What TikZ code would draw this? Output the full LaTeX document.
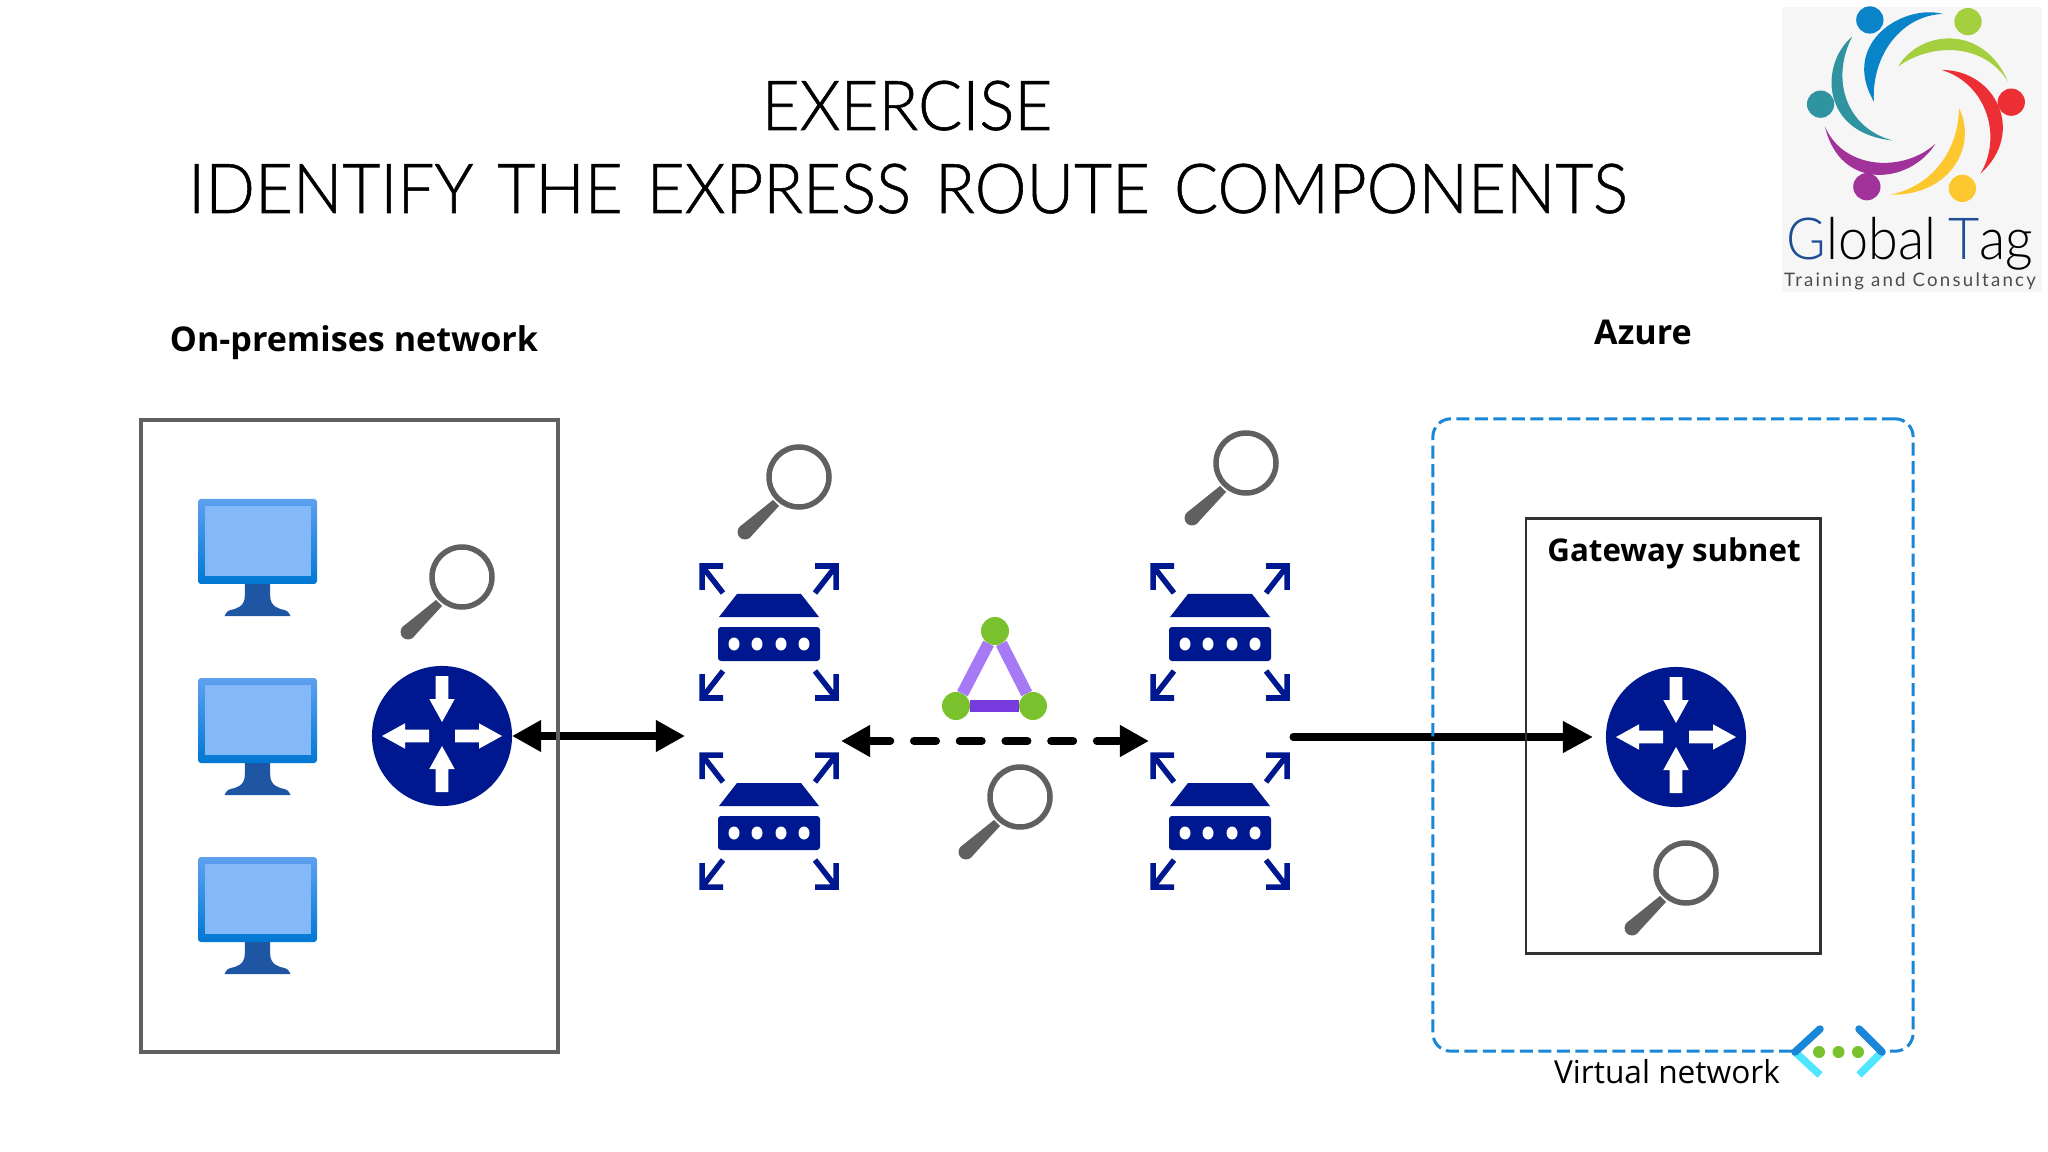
\documentclass[tikz,border=0pt]{standalone}
\usepackage{fontspec}
\setmainfont{Open Sans}
\newfontfamily\titlefont[UprightFont=* Light,WordSpace=1.35,FakeStretch=0.95,FakeBold=0.8]{Lato}
\newfontfamily\logofont[UprightFont=* Light,FakeStretch=0.93,WordSpace=0.8]{Lato}
\newfontfamily\logosubfont[LetterSpace=12]{Lato}
\usetikzlibrary{arrows.meta, positioning}
\definecolor{navy}{RGB}{0, 24, 143}
\definecolor{lens}{RGB}{96, 96, 96}
\definecolor{framegray}{RGB}{96, 96, 96}
\definecolor{subnetgray}{RGB}{50, 50, 50}
\definecolor{vnetblue}{RGB}{26, 134, 216}
\definecolor{vnetcyan}{RGB}{80, 230, 255}
\definecolor{leafgreen}{RGB}{122, 194, 45}
\definecolor{linklight}{RGB}{166, 122, 244}
\definecolor{linkdark}{RGB}{119, 58, 220}
\definecolor{screenedge}{RGB}{94, 160, 239}
\definecolor{screenbase}{RGB}{0, 120, 212}
\definecolor{screenglass}{RGB}{131, 185, 249}
\definecolor{standblue}{RGB}{31, 86, 163}
\definecolor{logobg}{RGB}{246, 246, 247}
\definecolor{logoblue}{RGB}{10, 132, 200}
\definecolor{logogreen}{RGB}{164, 207, 62}
\definecolor{logored}{RGB}{236, 47, 52}
\definecolor{logoyellow}{RGB}{253, 200, 47}
\definecolor{logopurple}{RGB}{160, 50, 154}
\definecolor{logoteal}{RGB}{47, 147, 160}
\definecolor{logoink}{RGB}{31, 78, 150}

\tikzset{
  magnifier/.pic={
    \draw [lens, line width=0.055cm] (0,0) circle [radius=30];
    \fill [lens] (-20,29) -- (-26,23) -- (-59,49.5) -- (-49,60.5) -- cycle;
    \fill [lens] (-54,55) circle [radius=7.5];
  },
  routerarrows/.pic={
    \foreach \a in {0,180}
      \fill [white, rotate=\a] (13,-6.3) -- (37,-6.3) -- (37,-12.7) -- (60,0) -- (37,12.7) -- (37,6.3) -- (13,6.3) -- cycle;
    \fill [white] (-6.3,-60) -- (6.3,-60) -- (6.3,-37) -- (12.7,-37) -- (0,-14) -- (-12.7,-37) -- (-6.3,-37) -- cycle;
    \fill [white] (-6.3,56) -- (6.3,56) -- (6.3,33) -- (12.7,33) -- (0,10) -- (-12.7,33) -- (-6.3,33) -- cycle;
  },
  switchicon/.pic={
    \fill [navy] (-50,-15) -- (-32,-38) -- (32,-38) -- (50,-15) -- cycle;
    \fill [navy, rounded corners=0.03cm] (-51,-5) rectangle (51,29);
    \foreach \x in {-35,-12,12,35}
      \fill [white] (\x,12) ellipse [x radius=5.5, y radius=6.5];
    \foreach \sx/\sy in {-1/-1, 1/-1, -1/1, 1/1}
      \draw [navy, line width=0.055cm] (\sx*46,\sy*66) -- (\sx*67,\sy*66) -- (\sx*67,\sy*42)
            (\sx*67,\sy*66) -- (\sx*46,\sy*39);
  },
  monitor/.pic={
    \fill [standblue] (-12.7,43) -- (-12.7,55) .. controls (-12.7,66) and (-22,68) .. (-27,69)
      .. controls (-31,70) and (-32,73) .. (-33,75) -- (33,75) .. controls (32,73) and (31,70) .. (27,69)
      .. controls (22,68) and (12.7,66) .. (12.7,55) -- (12.7,43) -- cycle;
    \shade [top color=screenedge, bottom color=screenbase, rounded corners=0.03cm] (-59.5,-42) rectangle (59.5,43);
    \fill [screenglass] (-53,-35) rectangle (53,35);
  }
}

\begin{document}
\begin{tikzpicture}[x=0.01cm, y=-0.01cm]

\tikzstyle{titletext} = [anchor=base, inner sep=0, font=\titlefont\fontsize{19.6}{24}\selectfont]
\tikzstyle{headtext} = [anchor=base, inner sep=0, font=\bfseries\fontsize{9.7}{12}\selectfont]
\tikzstyle{routerdisc} = [circle, fill=navy, minimum size=1.4cm, inner sep=0, outer sep=0]
\tikzstyle{switchbox} = [minimum width=1.44cm, minimum height=1.4cm, inner sep=0, outer sep=0]
\tikzstyle{peerdot} = [circle, fill=leafgreen, minimum size=0.28cm, inner sep=0, outer sep=0]
\tikzstyle{wire} = [line width=0.07cm, black, line cap=round]
\tikzstyle{bighead} = [{Triangle[length=0.29cm, width=0.3cm]}-{Triangle[length=0.29cm, width=0.3cm]}]

\useasboundingbox (0,0) rectangle (2048,1152);

\node[titletext] (titleA) at (907,130) {EXERCISE};
\node[titletext] (titleB) at (908,213) {IDENTIFY THE EXPRESS ROUTE COMPONENTS};
\node[headtext] (onpremLabel) at (354,352) {On-premises network};
\node[headtext] (azureLabel) at (1643,345) {Azure};

% endpoints of the links
\node[routerdisc] (routerL) at (442,736) {};
\node[routerdisc] (routerG) at (1676,737) {};
\node[switchbox] (swA) at (769,821) {};
\node[switchbox] (swB) at (1221,821) {};
\coordinate (peerLine) at (995,741);

\draw [wire, bighead, shorten >=0.12cm] (routerL.east) -- (routerL.east -| swA.west);
\draw [wire, line width=0.08cm, bighead, dash pattern=on 0.22cm off 0.237cm] (peerLine -| swA.east) -- (peerLine -| swB.west);
\draw [wire, -{Triangle[length=0.3cm, width=0.3cm]}, shorten >=0.13cm] (routerG.west -| swB.east) -- (routerG.west);

% frames
\node[draw=framegray, line width=0.04cm, minimum width=4.17cm, minimum height=6.32cm, outer sep=0] (onprem) at (349.5,736) {};
\node[draw=vnetblue, line width=0.03cm, rounded corners=0.18cm, dash pattern=on 0.13cm off 0.055cm, minimum width=4.8cm, minimum height=6.32cm, outer sep=0] (vnet) at (1673,735) {};
\node[draw=subnetgray, line width=0.028cm, minimum width=2.94cm, minimum height=4.35cm, outer sep=0] (subnet) at (1673,736) {};
\node[headtext, font=\bfseries\fontsize{8.9}{11}\selectfont] (subnetLabel) at (1674,561) {Gateway subnet};
\node[anchor=base, inner sep=0, font=\fontsize{9}{11}\selectfont] (vnetLabel) at (1667,1083) {Virtual network};

\foreach \y in {541,720,899}
  \pic at (257.5,\y) {monitor};

\pic at (routerL.center) {routerarrows};
\pic at (routerG.center) {routerarrows};

\foreach \x in {769,1220}
  \foreach \y in {632,821}
    \pic at (\x,\y) {switchicon};

\pic at (462,577) {magnifier};
\pic at (799,477) {magnifier};
\pic at (1020,797) {magnifier};
\pic at (1246,463) {magnifier};
\pic at (1686,873) {magnifier};

% triangle between the two pairs
\node[peerdot] (peerT) at (995,631) {};
\node[peerdot] (peerL) at (956,706) {};
\node[peerdot] (peerR) at (1033,706) {};
\draw [linklight, line width=0.12cm] (peerT) -- (peerL);
\draw [linklight, line width=0.12cm] (peerT) -- (peerR);
\draw [linkdark, line width=0.12cm] (peerL) -- (peerR);

% virtual network badge
\fill [white] (1795,1052) -- (1820,1029) -- (1859,1029) -- (1882,1052) -- (1859,1075) -- (1820,1075) -- cycle;
\draw [vnetcyan, line width=0.075cm] (1795,1052) -- (1820,1075);
\draw [vnetcyan, line width=0.075cm] (1882,1052) -- (1859,1075);
\draw [vnetblue, line width=0.075cm, line cap=round] (1820,1029) -- (1795,1052);
\draw [vnetblue, line width=0.075cm, line cap=round] (1859,1029) -- (1882,1052);
\foreach \x in {1819,1838.5,1858}
  \fill [leafgreen] (\x,1052) circle [radius=6];

% logo
\fill [logobg] (1782,7) rectangle (2042,292);
\begin{scope}[shift={(1770,0)}, x=0.00333cm, y=-0.00333cm]
  \fill [logoblue] (520,42) .. controls (400,10) and (210,130) .. (312,305) .. controls (305,160) and (400,45) .. (520,42);
  \fill [logoblue] (300,60) circle [radius=41];
  \fill [logogreen] (385,200) .. controls (450,90) and (640,70) .. (715,245) .. controls (640,125) and (480,130) .. (385,200);
  \fill [logogreen] (595,65) circle [radius=41];
  \fill [logored] (515,210) .. controls (680,210) and (770,400) .. (632,522) .. controls (700,410) and (650,250) .. (515,210);
  \fill [logored] (725,307) circle [radius=41];
  \fill [logoyellow] (568,325) .. controls (625,440) and (540,590) .. (360,585) .. controls (470,565) and (565,470) .. (568,325);
  \fill [logoyellow] (578,566) circle [radius=41];
  \fill [logopurple] (497,432) .. controls (420,555) and (210,575) .. (165,380) .. controls (220,510) and (400,520) .. (497,432);
  \fill [logopurple] (291,561) circle [radius=41];
  \fill [logoteal] (247,110) .. controls (150,190) and (150,400) .. (368,422) .. controls (230,385) and (180,240) .. (247,110);
  \fill [logoteal] (152,313) circle [radius=41];
\end{scope}
\node[anchor=base, inner sep=0, text=black, font=\logofont\fontsize{16.5}{20}\selectfont] (logoMain) at (1910,260) {\textcolor{logoink}{G}lobal \textcolor{logoink}{T}ag};
\node[anchor=base, inner sep=0, text=black!70, font=\logosubfont\fontsize{5.3}{7}\selectfont] (logoSub) at (1910,287) {Training and Consultancy};

\end{tikzpicture}
\end{document}
